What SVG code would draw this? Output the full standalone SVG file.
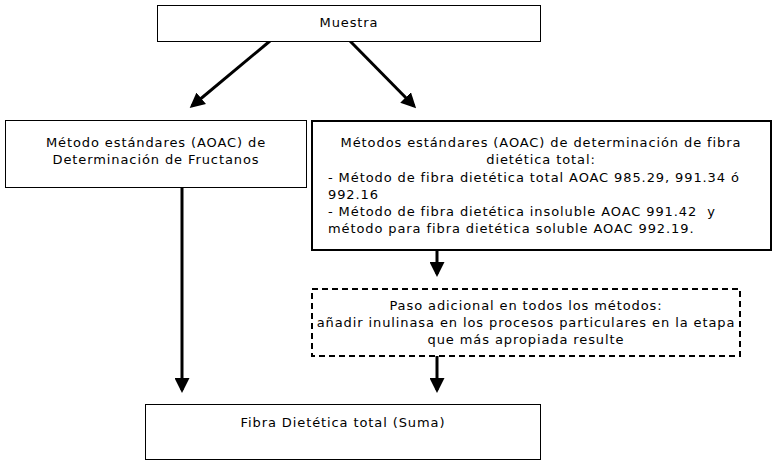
<svg xmlns="http://www.w3.org/2000/svg" width="777" height="468" viewBox="0 0 777 468">
<style>
text{font-family:"DejaVu Sans",Verdana,sans-serif;font-size:13px;letter-spacing:0.9px;fill:#000}
.c{text-anchor:middle}
.b{fill:#fff;stroke:#000;stroke-width:1}
.t{fill:#fff;stroke:#000;stroke-width:2}
.d{fill:#fff;stroke:#000;stroke-width:2;stroke-dasharray:6,4}
.e{stroke:#000;stroke-width:3;fill:none;marker-end:url(#a)}
</style>
<defs><marker id="a" markerWidth="5" markerHeight="5" refX="4" refY="2.5" orient="auto" markerUnits="strokeWidth"><path d="M0,0L5,2.5L0,5z" fill="#000"/></marker></defs>
<rect width="777" height="468" fill="#fff"/>
<g id="connectors">
<line class="e" x1="270" y1="41" x2="192" y2="106"/>
<line class="e" x1="350" y1="41" x2="414" y2="106"/>
<line class="e" x1="182" y1="187" x2="182" y2="390"/>
<line class="e" x1="437" y1="250" x2="437" y2="274"/>
<line class="e" x1="437" y1="356" x2="437" y2="390"/>
</g>
<g id="muestra"><rect class="b" x="157.5" y="5.5" width="383" height="36"/><text class="c" x="349" y="27">Muestra</text></g>
<g id="fructanos"><rect class="b" x="5.5" y="120.5" width="301" height="67"/><text class="c" x="156" y="147">Método estándares (AOAC) de</text><text class="c" x="156" y="164">Determinación de Fructanos</text></g>
<g id="aoac"><rect class="t" x="312" y="121" width="459" height="129"/>
<text class="c" x="541" y="147">Métodos estándares (AOAC) de determinación de fibra</text>
<text class="c" x="541" y="164">dietética total:</text>
<text x="328" y="182">- Método de fibra dietética total AOAC 985.29, 991.34 ó</text>
<text x="328" y="199">992.16</text>
<text x="328" y="216" xml:space="preserve">- Método de fibra dietética insoluble AOAC 991.42  y</text>
<text x="328" y="233">método para fibra dietética soluble AOAC 992.19.</text></g>
<g id="paso"><rect class="d" x="312" y="289" width="428" height="67"/>
<text class="c" x="526" y="310">Paso adicional en todos los métodos:</text>
<text class="c" x="526" y="327">añadir inulinasa en los procesos particulares en la etapa</text>
<text class="c" x="526" y="344">que más apropiada resulte</text></g>
<g id="total"><rect class="b" x="145.5" y="404.5" width="395" height="55"/><text class="c" x="343" y="427">Fibra Dietética total (Suma)</text></g>
</svg>
